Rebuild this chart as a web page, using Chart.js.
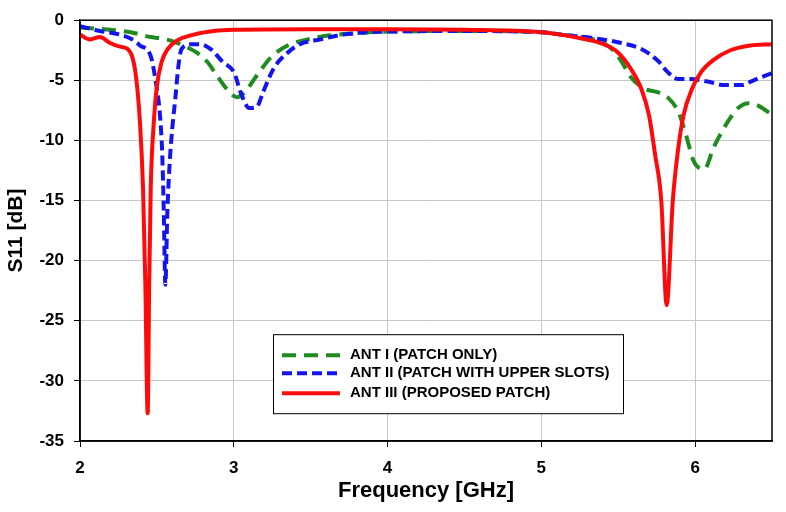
<!DOCTYPE html>
<html>
<head>
<meta charset="utf-8">
<title>S11</title>
<script src="https://cdn.jsdelivr.net/npm/chart.js@4/dist/chart.umd.min.js"></script>
<style>
  html, body { margin: 0; padding: 0; background: #fff; }
  #wrap { width: 786px; height: 512px; }
</style>
</head>
<body>
<div id="wrap"><canvas id="chartS11" width="786" height="512"></canvas></div>
<script>
// values (frequency in GHz, S11 in dB)
const seriesLabels = ['ANT I (PATCH ONLY)', 'ANT II (PATCH WITH UPPER SLOTS)', 'ANT III (PROPOSED PATCH)'];

const freqAnt1 = [2.0, 2.2, 2.33, 2.46, 2.52, 2.59, 2.67, 2.76, 2.83, 2.89, 2.96, 3.02, 3.07, 3.15, 3.24, 3.35, 3.48, 3.6, 3.78, 4.0, 4.5, 5.0, 5.13, 5.34, 5.45, 5.52, 5.58, 5.67, 5.76, 5.82, 5.89, 5.94, 5.99, 6.06, 6.12, 6.21, 6.28, 6.35, 6.41, 6.47, 6.5];
const s11Ant1 = [-0.6, -0.8, -1.0, -1.4, -1.5, -1.7, -2.1, -2.7, -3.5, -4.6, -5.8, -6.4, -6.0, -4.6, -3.1, -2.1, -1.6, -1.3, -1.1, -0.95, -0.9, -1.0, -1.2, -1.6, -2.3, -3.4, -4.7, -5.7, -6.0, -6.4, -7.6, -9.5, -11.7, -12.4, -10.6, -8.5, -7.3, -6.9, -7.1, -7.6, -7.8];

const freqAnt2 = [2.0, 2.13, 2.26, 2.34, 2.39, 2.46, 2.49, 2.52, 2.535, 2.545, 2.555, 2.568, 2.585, 2.6, 2.62, 2.64, 2.66, 2.72, 2.78, 2.85, 2.93, 3.0, 3.05, 3.1, 3.15, 3.19, 3.26, 3.35, 3.43, 3.56, 3.71, 3.82, 4.0, 4.5, 5.0, 5.13, 5.34, 5.52, 5.65, 5.76, 5.82, 5.89, 5.97, 6.08, 6.19, 6.3, 6.38, 6.44, 6.5];
const s11Ant2 = [-0.5, -0.9, -1.2, -1.6, -2.1, -3.0, -4.9, -7.9, -11.2, -16, -22, -16, -11.5, -9.0, -6.5, -3.8, -2.4, -2.0, -2.0, -2.4, -3.5, -4.3, -6.2, -7.3, -7.2, -6.0, -4.0, -2.7, -2.0, -1.6, -1.2, -1.05, -0.95, -0.9, -1.0, -1.2, -1.5, -1.9, -2.4, -3.4, -4.3, -4.9, -4.9, -5.1, -5.4, -5.4, -5.0, -4.7, -4.4];

const freqAnt3 = [2.0, 2.065, 2.13, 2.195, 2.26, 2.31, 2.36, 2.39, 2.41, 2.425, 2.44, 2.45, 2.46, 2.48, 2.5, 2.53, 2.57, 2.63, 2.74, 2.87, 3.0, 3.5, 4.0, 4.5, 5.0, 5.125, 5.255, 5.385, 5.5, 5.58, 5.65, 5.7, 5.74, 5.78, 5.815, 5.855, 5.885, 5.925, 5.98, 6.04, 6.12, 6.23, 6.36, 6.5];
const s11Ant3 = [-1.2, -1.6, -1.4, -1.9, -2.2, -2.4, -4.3, -8.5, -14, -22, -32.7, -22, -14, -8.5, -5.5, -3.5, -2.4, -1.7, -1.2, -0.9, -0.8, -0.75, -0.75, -0.8, -1.0, -1.2, -1.5, -1.9, -2.7, -4.0, -5.7, -7.9, -11.2, -15, -23.7, -15, -11.2, -7.9, -5.7, -4.3, -3.3, -2.5, -2.1, -2.0];

const xTicks = [2, 3, 4, 5, 6];

function toPoints(xs, ys) {
  return xs.map((x, i) => ({ x: x, y: ys[i] }));
}

// frame around the plot area
const frame = {
  id: 'frame',
  afterDatasetsDraw(chart) {
    const a = chart.chartArea, ctx = chart.ctx;
    ctx.save();
    ctx.strokeStyle = '#000';
    ctx.lineWidth = 1.5;
    ctx.strokeRect(a.left, a.top, a.right - a.left, a.bottom - a.top);
    ctx.restore();
  }
};

// boxed legend inside the plot
const boxLegend = {
  id: 'boxLegend',
  afterDraw(chart) {
    const a = chart.chartArea, ctx = chart.ctx;
    const bx = a.left + 193, by = a.top + 314, bw = 350, bh = 79;
    ctx.save();
    ctx.fillStyle = '#fff';
    ctx.fillRect(bx, by, bw, bh);
    ctx.strokeStyle = '#000';
    ctx.lineWidth = 1;
    ctx.strokeRect(bx + 0.5, by + 0.5, bw, bh);
    const rows = [21, 39, 59];
    chart.data.datasets.forEach((ds, i) => {
      const y = by + rows[i];
      ctx.beginPath();
      ctx.strokeStyle = ds.borderColor;
      ctx.lineWidth = 4;
      ctx.setLineDash(ds.borderDash || []);
      ctx.moveTo(bx + 9, y);
      ctx.lineTo(bx + 67, y);
      ctx.stroke();
      ctx.setLineDash([]);
      ctx.fillStyle = '#000';
      ctx.font = 'bold 15px "Liberation Sans", Arial, sans-serif';
      ctx.textBaseline = 'middle';
      ctx.fillText(ds.label, bx + 77, y);
    });
    ctx.restore();
  }
};

new Chart(document.getElementById('chartS11'), {
  type: 'line',
  data: {
    datasets: [
      {
        label: seriesLabels[0],
        data: toPoints(freqAnt1, s11Ant1),
        borderColor: '#1e8c1e',
        borderDash: [14, 8],
        borderWidth: 4,
        order: 3
      },
      {
        label: seriesLabels[1],
        data: toPoints(freqAnt2, s11Ant2),
        borderColor: '#1414f0',
        borderDash: [10, 5],
        borderWidth: 4,
        order: 2
      },
      {
        label: seriesLabels[2],
        data: toPoints(freqAnt3, s11Ant3),
        borderColor: '#ff0a0a',
        borderWidth: 4,
        order: 1
      }
    ]
  },
  options: {
    responsive: false,
    animation: false,
    layout: { padding: { top: 15, right: 14, left: 0, bottom: 0 } },
    elements: {
      point: { radius: 0 },
      line: { cubicInterpolationMode: 'monotone', fill: false, borderCapStyle: 'butt' }
    },
    plugins: {
      legend: { display: false },
      tooltip: { enabled: false }
    },
    scales: {
      x: {
        type: 'linear',
        min: 2,
        max: 6.5,
        afterBuildTicks: s => { s.ticks = xTicks.map(v => ({ value: v })); },
        afterFit: s => { s.height = 71; },
        grid: { color: '#c8c8c8', lineWidth: 1, tickColor: '#000', tickLength: 6 },
        border: { color: '#000', width: 1.5 },
        ticks: {
          color: '#000',
          padding: 11,
          maxRotation: 0,
          font: { family: '"Liberation Sans", Arial, sans-serif', size: 17, weight: 'bold' }
        },
        title: {
          display: true,
          text: 'Frequency [GHz]',
          color: '#000',
          padding: { top: 0, bottom: 8 },
          font: { family: '"Liberation Sans", Arial, sans-serif', size: 22, weight: 'bold' }
        }
      },
      y: {
        min: -35,
        max: 0,
        afterFit: s => { s.width = 80; },
        grid: { color: '#c8c8c8', lineWidth: 1, tickColor: '#000', tickLength: 6 },
        border: { color: '#000', width: 1.5 },
        ticks: {
          stepSize: 5,
          color: '#000',
          padding: 10,
          font: { family: '"Liberation Sans", Arial, sans-serif', size: 17, weight: 'bold' }
        },
        title: {
          display: true,
          text: 'S11 [dB]',
          color: '#000',
          padding: { top: 4, bottom: 0 },
          font: { family: '"Liberation Sans", Arial, sans-serif', size: 21, weight: 'bold' }
        }
      }
    }
  },
  plugins: [frame, boxLegend]
});
</script>
</body>
</html>
